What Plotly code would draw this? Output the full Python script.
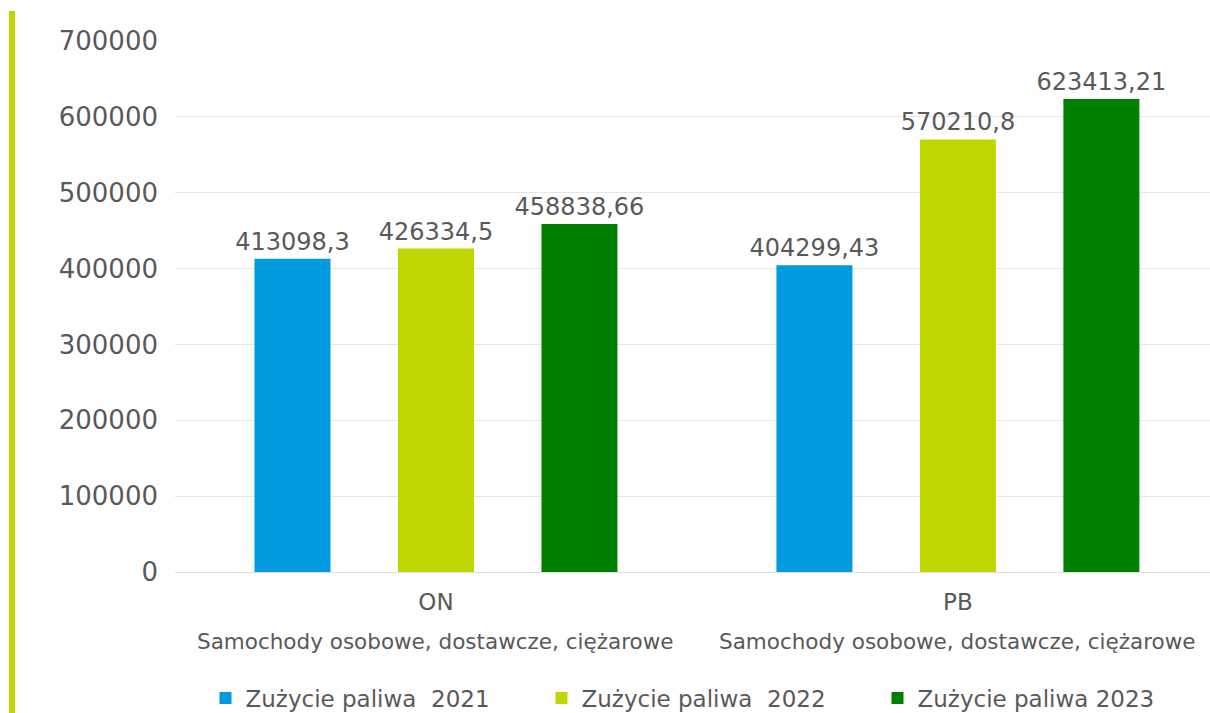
import plotly.graph_objects as go

fuels = ["ON", "PB"]
vehicle_labels = ["Samochody osobowe, dostawcze, ciężarowe", "Samochody osobowe, dostawcze, ciężarowe"]
series_names = ["Zużycie paliwa\u00a0 2021", "Zużycie paliwa\u00a0 2022", "Zużycie paliwa 2023"]
values_2021 = [413098.3, 404299.43]
values_2022 = [426334.5, 570210.8]
values_2023 = [458838.66, 623413.21]
y_ticks = [0, 100000, 200000, 300000, 400000, 500000, 600000, 700000]

colors = ["#009ADE", "#C0D600", "#008000"]
offsets = [-0.3477, -0.0728, 0.2021]
bar_w = 0.1456
FONT = "DejaVu Sans"
GREY = "#595959"

fig = go.Figure()
for name, vals, col, off in zip(series_names, [values_2021, values_2022, values_2023], colors, offsets):
    fig.add_trace(go.Bar(
        x=fuels, y=vals, name=name,
        marker=dict(color=col, line=dict(width=0)),
        offset=off, width=bar_w,
        text=[str(v).replace(".", ",") for v in vals],
        textposition="outside", constraintext="none",
        textfont=dict(family=FONT, size=24, color=GREY),
        cliponaxis=False,
    ))

for f, lab in zip(fuels, vehicle_labels):
    fig.add_annotation(x=f, xref="x", y=0, yref="paper", yanchor="top",
                       yshift=-55, text=lab, showarrow=False,
                       font=dict(family=FONT, size=21.5, color=GREY))

# left accent line
fig.add_shape(type="line", xref="paper", yref="paper",
              x0=(12 - 175) / 1035, x1=(12 - 175) / 1035,
              y0=(572 - 713) / 531, y1=(572 - 11) / 531,
              line=dict(color="#C0D600", width=6))

fig.update_layout(
    width=1210, height=713,
    margin=dict(l=175, r=0, t=41, b=141, autoexpand=False),
    paper_bgcolor="white", plot_bgcolor="white",
    font=dict(family=FONT, color=GREY),
    barmode="group",
    showlegend=True,
    legend=dict(orientation="h", x=0.5 + 17 / 1035, xanchor="center",
                yref="container", y=(713 - 698) / 713, yanchor="middle",
                font=dict(family=FONT, size=23, color=GREY),
                entrywidth=291, entrywidthmode="pixels", traceorder="normal"),
    xaxis=dict(type="category", range=[-0.5, 1.483], showgrid=False, showline=False,
               automargin=False,
               ticks="", tickfont=dict(family=FONT, size=23, color=GREY), ticklabelstandoff=14),
    yaxis=dict(range=[0, 700000], tickvals=y_ticks, tickformat="d", showgrid=True,
               automargin=False,
               gridcolor="#E6E6E6", gridwidth=1, zeroline=True, zerolinecolor="#E0E0E0",
               zerolinewidth=1, showline=False, ticks="",
               tickfont=dict(family=FONT, size=26, color=GREY), ticklabelstandoff=16),
)

fig.write_html("out.html", config={"displayModeBar": False},
               post_script="document.body.style.margin='0';document.body.style.overflow='hidden';")
